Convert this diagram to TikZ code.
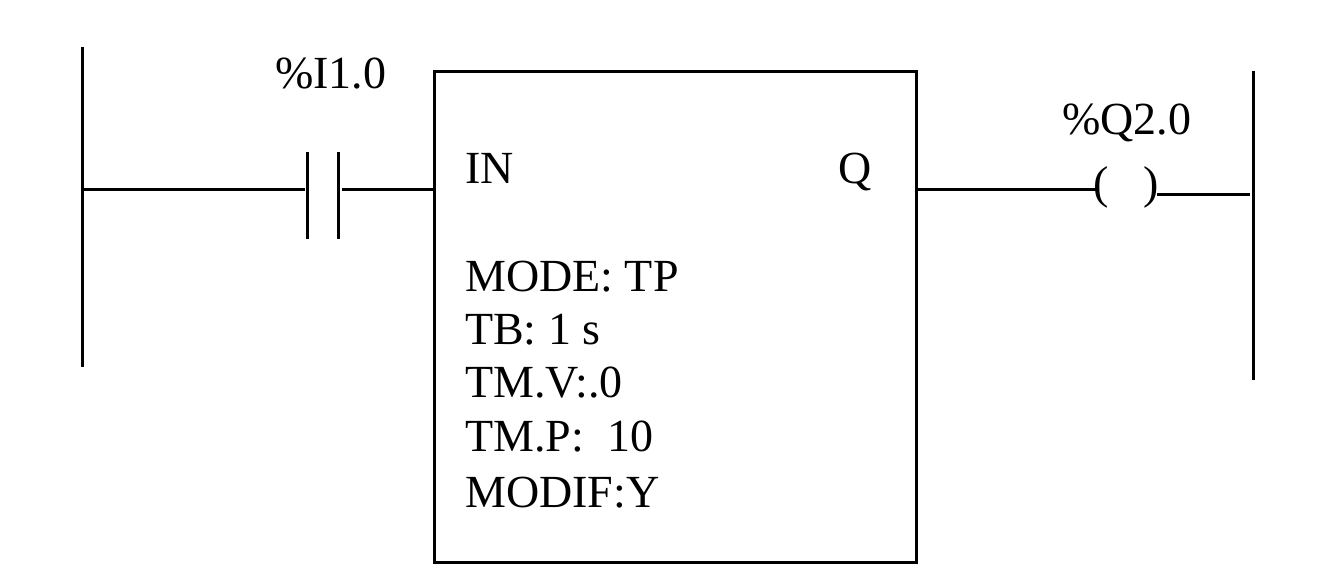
\documentclass[tikz,border=0pt]{standalone}
\usepackage{fontspec}
\setmainfont{Liberation Serif}
\tikzset{wire/.style={line width=3pt,line cap=butt},
lbl/.style={inner sep=0pt,anchor=base west,font=\fontsize{46}{50}\selectfont}}
\begin{document}
\begin{tikzpicture}[x=1pt,y=-1pt]
\useasboundingbox[fill=white] (0,0) rectangle (1340,580);
\node[draw,line width=3pt,minimum width=482pt,minimum height=491pt,inner sep=0pt] (box) at (675.5,317) {};
\coordinate (la) at (82,47); \coordinate (lb) at (82,367);
\draw[wire] (la)--(lb);
\coordinate (ra) at (1253,71); \coordinate (rb) at (1253,380);
\draw[wire] (ra)--(rb);
\coordinate (l1) at (82,190); \coordinate (c1t) at (307,152); \coordinate (c1b) at (307,239);
\coordinate (c1) at (305,190); \coordinate (c2) at (342,190); \coordinate (c2t) at (338.5,152); \coordinate (c2b) at (338.5,239);
\coordinate (b1) at (434,190);
\draw[wire] (l1)--(c1); \draw[wire] (c1t)--(c1b); \draw[wire] (c2t)--(c2b); \draw[wire] (c2)--(b1);
\coordinate (b2) at (917,190); \coordinate (p1) at (1096,190); \coordinate (p2) at (1157,194.5); \coordinate (r1) at (1250,194.5);
\draw[wire] (b2)--(p1); \draw[wire] (p2)--(r1);
\node[lbl] (pl) at (1093,198) {(};
\node[lbl] (pr) at (1143,198) {)};
\node[lbl] (i) at (275,89) {\%I1.0};
\node[lbl] (q) at (1062,135) {\%Q2.0};
\node[lbl] (in) at (465,184) {IN};
\node[lbl] (qq) at (838,184) {Q};
\node[lbl] (m) at (465,291) {MODE: TP};
\node[lbl] (tb) at (465,344) {TB: 1 s};
\node[lbl] (tv) at (465,397) {TM.V:.0};
\node[lbl] (tp) at (465,451) {TM.P:\ \ 10};
\node[lbl] (mo) at (465,507) {MODIF:Y};
\end{tikzpicture}
\end{document}
